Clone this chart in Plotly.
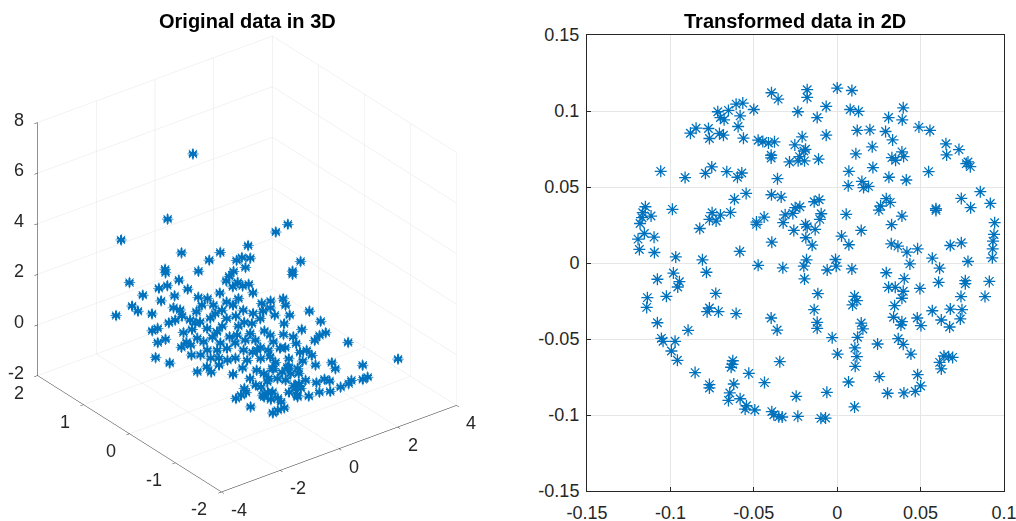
import plotly.graph_objects as go

# Left panel: values (depth is estimated)
x3 = [0.0,-0.61,-1.46,-0.17,-0.65,-0.76,-1.44,-0.29,0.0,0.18,0.68,1.08,1.19,1.40,1.56,1.57,1.18,0.92,2.23,1.71,2.10,2.03,1.92,
      -0.72,-0.14,0.13,0.45,-0.06,-0.52,-1.32,-1.37,-1.99,-1.16,-0.49,0.40,0.56,1.01,1.56,1.50,1.74,1.93,1.73,0.85,1.22,0.46,-0.13,0.21,0.29,0.93,1.03,
      -1.10,-0.59,-0.87,-0.55,-1.73,-1.53,-1.12,-0.83,-0.47,-0.37,0.28,0.29,-2.01,-1.73,-1.66,-1.39,-1.00,-0.27,-1.20,-0.05,-1.71,-2.57,-2.45,-1.51,-0.99,-0.72,-0.42,-0.13,
      -1.23,-1.11,-0.69,-1.05,-2.15,-1.78,-1.46,-1.25,-1.71,-2.23,-1.81,-2.01,-2.20,-1.93,-1.73,-1.51,-1.38,-1.22,-1.57,-0.99,-0.66,-1.30,-0.40,-0.53,-0.85,-0.06,
      1.83,2.18,2.01,1.59,2.32,2.22,1.32,1.01,0.66,1.35,1.53,0.97,0.68,1.94,1.71,1.44,1.10,0.50,0.93,0.56,0.03,2.09,2.60,0.93,0.87,0.48,0.26,0.62,-0.08,-0.34,1.05,0.92,1.63,
      -0.02,-0.43,-0.78,-0.21,-0.03,0.04,0.33,0.38,0.41,0.70,0.87,1.15,1.33,-0.37,-0.61,-0.81,-0.58,-0.22,0.04,-1.54,-1.51,
      0.21,0.47,0.88,-0.05,0.57,-0.40,-0.07,0.54,-0.65,-0.05,-1.01,-0.68,-0.36,0.17,-1.40,-0.87,-0.30,-1.87,-1.47,-0.82,0.11,0.43,-0.15,0.72,0.12,-0.34,-0.84,-0.54,-0.11,-0.88,-0.49,-1.33,-1.32,-1.35,0.66,1.76,1.44,1.56,1.76,-0.55,-0.42,-1.38]
y3 = [1.18,1.34,1.81,1.32,1.37,1.29,1.64,1.30,1.06,0.94,1.02,0.67,0.99,1.01,0.93,1.04,1.05,0.98,0.54,0.47,0.18,0.31,0.24,
      1.81,1.83,1.82,1.58,1.54,1.54,1.66,1.50,1.58,1.33,1.29,1.32,1.22,1.24,1.45,1.27,1.21,1.20,0.98,0.99,0.97,1.03,1.02,0.83,0.63,0.68,0.53,
      1.00,1.04,1.01,0.78,0.96,0.97,0.67,0.67,0.57,0.42,0.37,0.12,0.66,0.67,0.37,0.34,0.31,0.21,0.10,0.01,0.12,0.35,0.12,0.05,0.02,-0.02,-0.19,-0.30,
      -0.17,-0.28,-0.44,-0.57,-0.29,-0.26,-0.32,-0.86,-1.03,-1.18,-1.13,-1.15,-1.48,-1.79,-1.77,-1.77,-1.62,-1.33,-1.37,-1.07,-1.08,-1.13,-0.83,-1.36,-1.64,-0.91,
      0.66,0.61,0.45,0.51,0.13,-0.18,0.50,0.36,0.32,0.06,-0.21,-0.17,0.06,-0.47,-0.48,-0.55,-0.30,-0.25,-0.47,-0.47,-0.27,-0.86,-1.62,-0.70,-0.85,-0.90,-0.74,-1.09,-0.55,-0.51,-1.17,-1.33,-1.47,
      -0.92,-0.82,-0.86,-1.08,-1.14,-1.48,-1.47,-1.55,-1.77,-1.76,-1.71,-1.78,-1.77,-1.36,-1.44,-1.60,-1.71,-1.71,-1.78,-1.32,-1.48,
      1.12,0.85,0.87,0.77,0.61,0.77,0.50,0.41,0.34,0.19,0.44,0.15,0.03,-0.07,-0.10,-0.30,-0.31,-0.41,-0.63,-0.73,-0.39,-0.44,-0.71,-0.69,-1.02,-0.98,-1.00,-1.18,-1.34,-1.47,-1.48,-1.30,-1.51,-1.05,-0.08,0.20,0.32,0.68,1.33,0.89,1.19,0.44]
z3 = [6,3.5,2.5,2,1.5,1.5,1,1,1.5,2,2,2.5,1.5,1.5,1.5,1,1,1,3,3,2,1.5,1.5] + [0]*(len(x3)-23)

# Right panel
x2 = [-0.1058,-0.0912,-0.079,-0.0752,-0.0662,-0.0598,-0.0572,-0.0358,-0.088,-0.0846,-0.0772,-0.0766,-0.0706,-0.0682,-0.0716,-0.0652,-0.07,-0.0678,-0.0606,-0.0566,-0.0582,-0.0594,-0.0562,-0.05,-0.0474,-0.0446,-0.0412,-0.0376,-0.0396,-0.0396,-0.0394,-0.0354,-0.018,-0.018,-0.0236,-0.012,-0.0066,-0.0066,-0.021,-0.0254,-0.019,-0.02,-0.0226,-0.0286,-0.0234,-0.0196,-0.0112,
      -0.0546,-0.0616,-0.0394,-0.0336,-0.115,-0.1166,-0.117,-0.1182,-0.1116,-0.0988,-0.075,-0.0766,-0.0726,-0.07,-0.064,-0.0824,-0.1156,-0.1194,-0.1098,-0.1186,-0.1096,-0.0968,-0.0808,-0.0584,-0.0392,-0.0484,-0.0484,-0.0438,-0.0324,-0.0312,-0.0266,-0.0252,-0.0224,-0.0138,-0.0108,-0.0096,-0.0104,-0.019,-0.018,-0.0132,-0.026,-0.0188,-0.015,-0.0184,-0.0474,-0.0326,-0.02,
      0.0,0.0088,0.0078,0.0128,0.0396,0.0308,0.039,0.012,0.0196,0.029,0.0332,0.049,0.0556,0.0652,0.073,0.0656,0.021,0.0112,0.0388,0.0328,0.035,0.0398,0.0784,0.0798,0.0774,0.007,0.0214,0.031,0.0414,0.0548,0.0066,0.0148,0.0158,0.0188,0.0858,0.0744,0.08,0.0918,0.0294,0.0318,0.026,0.025,0.0592,0.0592,0.0054,0.0388,0.0326,0.0944,0.094,0.0934,0.0026,0.0144,0.007,0.0324,0.0364,0.0418,0.0482,0.0678,0.0744,0.0932,0.093,-0.001,0.057,0.0436,0.0784,-0.0006,0.0088,0.0614,
      -0.0196,-0.006,-0.1078,-0.0982,-0.0946,-0.0956,-0.0784,-0.1024,-0.1138,-0.1142,-0.1078,-0.0728,-0.0766,-0.078,-0.0712,-0.0606,-0.0894,-0.1054,-0.1044,-0.0972,-0.0994,-0.0958,-0.0852,-0.0626,-0.0628,-0.0636,-0.053,-0.0766,-0.0766,-0.062,-0.0644,-0.0652,-0.0582,-0.0544,-0.0552,-0.0494,-0.0436,-0.0344,-0.0396,-0.036,-0.0116,-0.0138,-0.012,-0.012,-0.0392,-0.038,-0.035,-0.033,-0.0236,-0.0246,-0.0098,-0.007,-0.0062,
      0.0294,0.0402,0.0608,0.0768,0.0768,0.0912,0.0308,0.0348,0.0496,0.0396,0.0388,0.0104,0.0118,0.0092,0.0344,0.0742,0.0886,0.057,0.0678,0.0748,0.0738,0.0624,0.0674,0.0338,0.0388,0.0382,0.048,0.0502,0.0144,0.0154,0.0122,-0.003,0.0242,0.0366,0.0396,0.0442,0.0106,0.0002,0.0118,0.0108,0.064,0.0614,0.0668,0.0692,0.0624,0.0252,0.0482,0.05,0.0468,0.04,0.0302,0.0068,0.0104]
y2 = [0.0603,0.0562,0.059,0.0632,0.0601,0.0564,0.0592,0.0555,0.0854,0.0887,0.0885,0.0819,0.0852,0.0841,0.0995,0.1004,0.0957,0.0942,0.1045,0.1052,0.0968,0.0898,0.0821,0.101,0.0808,0.0799,0.079,0.0797,0.0709,0.0691,0.112,0.1078,0.114,0.1089,0.0995,0.0957,0.103,0.0841,0.083,0.0777,0.0748,0.0737,0.07,0.0665,0.0672,0.0672,0.0683,
      0.0458,0.0419,0.0449,0.0434,0.037,0.0331,0.0298,0.026,0.0309,0.0353,0.0331,0.0287,0.0276,0.0315,0.0333,0.0227,0.0194,0.0157,0.017,0.0089,0.0069,0.004,0.0021,0.0076,0.0137,0.0269,0.0254,0.0302,0.0265,0.0317,0.0326,0.0364,0.037,0.0403,0.0416,0.0324,0.0287,0.0254,0.0238,0.0221,0.0214,0.0166,0.0117,0.0021,-0.0015,-0.0032,-0.0021,
      0.1151,0.1135,0.101,0.0997,0.1021,0.0957,0.0942,0.0872,0.0876,0.0865,0.081,0.0894,0.0872,0.0784,0.0746,0.0711,0.0764,0.0718,0.0731,0.0693,0.0676,0.07,0.0665,0.0634,0.0654,0.0603,0.0628,0.0564,0.0546,0.0601,0.0509,0.0537,0.0496,0.0504,0.0469,0.0425,0.0364,0.0392,0.0423,0.0399,0.0375,0.0348,0.0357,0.0346,0.032,0.0309,0.0252,0.0265,0.0188,0.0144,0.0177,0.0214,0.012,0.0126,0.0111,0.0071,0.0093,0.0115,0.0133,0.0093,0.0034,0.0023,0.0032,-0.0006,0.001,-0.0021,-0.0039,-0.0034,
      -0.0105,-0.0046,-0.0107,-0.0066,-0.0123,-0.0158,-0.0061,-0.0219,-0.0228,-0.0292,-0.0393,-0.02,-0.0296,-0.032,-0.032,-0.0333,-0.0443,-0.0496,-0.0515,-0.0515,-0.0579,-0.064,-0.0721,-0.0643,-0.0667,-0.0686,-0.0726,-0.08,-0.0822,-0.0796,-0.0855,-0.0904,-0.0893,-0.0939,-0.0961,-0.0967,-0.0787,-0.0649,-0.0362,-0.0441,-0.0202,-0.0307,-0.039,-0.043,-0.0978,-0.0998,-0.1011,-0.1013,-0.1009,-0.0877,-0.1022,-0.102,-0.0851,
      -0.0064,-0.0103,-0.0127,-0.0116,-0.0136,-0.0121,-0.016,-0.016,-0.0167,-0.0186,-0.0232,-0.0219,-0.0248,-0.0276,-0.0281,-0.0221,-0.0221,-0.0314,-0.0303,-0.0307,-0.0368,-0.0375,-0.0421,-0.0357,-0.0386,-0.0408,-0.0362,-0.0412,-0.0395,-0.0434,-0.0489,-0.0491,-0.0533,-0.0498,-0.0535,-0.0599,-0.0559,-0.0599,-0.0616,-0.068,-0.0612,-0.0654,-0.0616,-0.0621,-0.0697,-0.0748,-0.0735,-0.0809,-0.0844,-0.0855,-0.0857,-0.0783,-0.0947]

xt3 = [-4,-2,0,2,4]
yt3 = [-2,-1,0,1,2]
zt3 = [-2,0,2,4,6,8]
xt2 = [-0.15,-0.1,-0.05,0,0.05,0.1]
yt2 = [-0.15,-0.1,-0.05,0,0.05,0.1,0.15]
BLUE = "#0072BD"
W, H = 1016, 521
FONT = "Liberation Sans"
INK = "#262626"
GRID = "#e6e6e6"

def px(v):
    return v / W
def py(v):
    return 1 - v / H

fig = go.Figure()
for glyph, size in (("\u2733", 16), ("\u2731", 13)):
    fig.add_trace(go.Scatter3d(x=x3, y=y3, z=z3, mode="text", text=[glyph]*len(x3), textposition="middle center",
                               textfont=dict(family="DejaVu Sans", size=size, weight="bold", color=BLUE), hoverinfo="skip", showlegend=False))
fig.add_trace(go.Scatter(x=x2, y=y2, mode="markers", xaxis="x", yaxis="y",
                         marker=dict(symbol="asterisk-open", size=10, color=BLUE, line=dict(width=1.3, color=BLUE)),
                         hoverinfo="skip", showlegend=False))

def ax3(rng, ticks):
    return dict(range=rng, tickvals=ticks, showticklabels=False, title=dict(text=""),
                showbackground=False, showgrid=True, gridcolor=GRID, gridwidth=1, showline=True, linecolor=INK, linewidth=1,
                ticks="outside", ticklen=4, tickcolor=INK, zeroline=False, showspikes=False, autorange=False)

def ax2(rng, ticks, dom, standoff):
    return dict(domain=dom, range=rng, tickvals=ticks, ticktext=[f"{t:g}" for t in ticks], showgrid=True, gridcolor=GRID, gridwidth=1, automargin=False,
                zeroline=False, showline=True, mirror=True, linecolor=INK, linewidth=1, ticks="inside", ticklen=4, tickcolor=INK,
                ticklabeloverflow="allow", ticklabelstandoff=standoff, tickfont=dict(family=FONT, size=18, color=INK))

def title(text, cx):
    return dict(text=f"<b>{text}</b>", x=px(cx), y=py(21), xref="paper", yref="paper", showarrow=False, xanchor="center", yanchor="middle",
                font=dict(family=FONT, size=20, color="black"))

def tick3(x, y, z, label, anchor, dx, dy):
    return dict(x=x, y=y, z=z, text=str(label), showarrow=False, xanchor=anchor, yanchor="middle", xshift=dx, yshift=dy,
                font=dict(family=FONT, size=18, color=INK))

labels3 = ([tick3(t, -2, -2, t, "left", 8, -18) for t in xt3]
           + [tick3(-4, t, -2, t, "right", -12, -17) for t in yt3]
           + [tick3(-4, 2, t, t, "right", -12, 3) for t in zt3])

fig.update_layout(
    template="none",
    width=W, height=H, margin=dict(l=0, r=0, t=0, b=0, pad=0, autoexpand=False), paper_bgcolor="white", plot_bgcolor="white", showlegend=False,
    scene=dict(domain=dict(x=[0, 494/W], y=[0, 514/H]),
               xaxis=ax3([-4, 4], xt3), yaxis=ax3([-2, 2], yt3), zaxis=ax3([-2, 8], zt3),
               aspectmode="manual", aspectratio=dict(x=1.15, y=1.18, z=1.124),
               camera=dict(projection=dict(type="orthographic"), up=dict(x=0, y=0, z=1), center=dict(x=0, y=0, z=0),
                           eye=dict(x=-1.32, y=-1.73, z=1.2)),
               annotations=labels3),
    xaxis=ax2([-0.15, 0.1], xt2, [px(587), px(1004)], 5),
    yaxis=ax2([-0.15, 0.15], yt2, [py(491), py(35)], 3),
    annotations=[title("Original data in 3D", 247), title("Transformed data in 2D", 795)],
)
fig.write_html("out.html", config=dict(displayModeBar=False),
               post_script="document.body.style.margin='0';document.documentElement.style.overflow='hidden';")
